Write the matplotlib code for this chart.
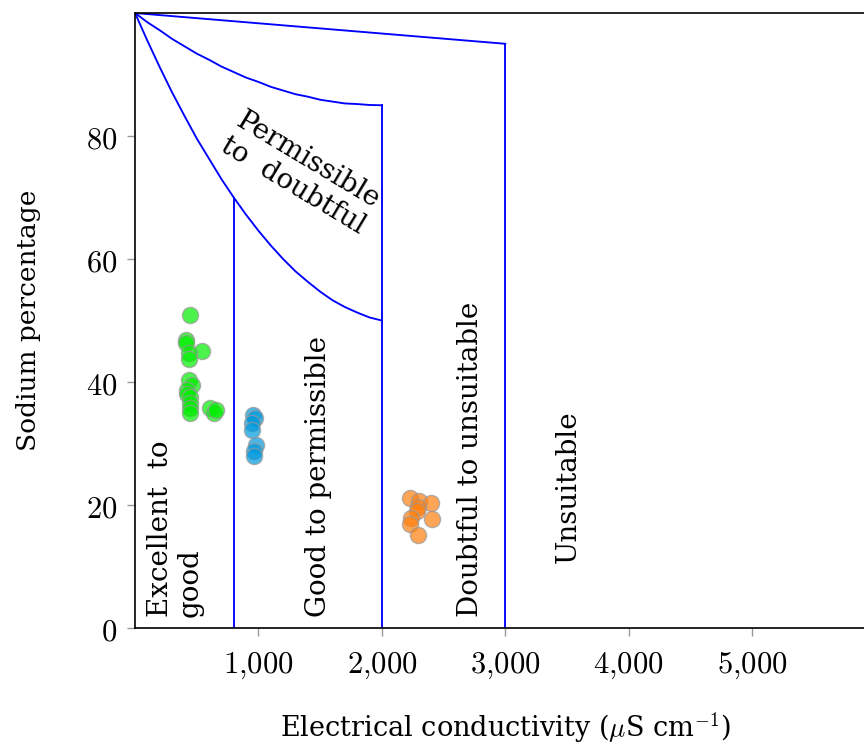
import numpy as np
import matplotlib
matplotlib.use('Agg')
import matplotlib.pyplot as plt
from matplotlib.ticker import FuncFormatter

plt.rcParams['font.family'] = ['DejaVu Serif']
plt.rcParams['mathtext.fontset'] = 'cm'

# Wilcox boundaries
curve_x = [0, 100, 200, 300, 400, 500, 600, 700, 800, 900, 1000,
           1100, 1200, 1300, 1400, 1500, 1600, 1700, 1800, 1900, 2000]
lower_na = [100, 95.5, 91.2, 87.1, 83.3, 79.6, 76.3, 73.0, 70.0, 67.2, 64.6,
            62.2, 60.0, 58.0, 56.3, 54.7, 53.3, 52.2, 51.3, 50.5, 50]
upper_na = [100, 98.5, 97.2, 95.8, 94.6, 93.4, 92.4, 91.3, 90.4, 89.5, 88.8,
            88.0, 87.4, 86.8, 86.4, 85.9, 85.6, 85.3, 85.2, 85.05, 85]
top_x = [0, 3000]
top_na = [100, 95]

# samples
green_ec = [446, 411, 411, 546, 438, 438, 438, 459, 419, 419, 446, 446, 446, 446, 608, 640, 655]
green_na = [50.9, 46.8, 46.4, 45.0, 44.8, 43.7, 40.3, 39.5, 38.7, 38.0, 37.5, 36.6, 35.8, 35.0, 35.7, 35.0, 35.5]
blue_ec = [959, 972, 945, 945, 980, 964, 964]
blue_na = [34.6, 34.2, 33.4, 32.2, 29.7, 28.8, 27.9]
orange_ec = [2229, 2304, 2396, 2296, 2283, 2404, 2234, 2229, 2296]
orange_na = [21.1, 20.6, 20.4, 19.6, 19.0, 17.8, 17.9, 16.9, 15.2]

fig = plt.figure(figsize=(8.64, 7.49), dpi=100)
ax = fig.add_axes([0.1563, 0.1615, 0.857, 0.8211])

line_kw = dict(color='blue', lw=1.35)
ax.plot(curve_x, lower_na, **line_kw)
ax.plot(curve_x, upper_na, **line_kw)
ax.plot(top_x, top_na, **line_kw)
ax.plot([800, 800], [0, 70], **line_kw)
ax.plot([2000, 2000], [0, 85], **line_kw)
ax.plot([3000, 3000], [0, 95], **line_kw)

pt_kw = dict(s=135, edgecolors='#999999', linewidths=1.0, alpha=0.7, zorder=3)
ax.scatter(green_ec, green_na, c='#00ee00', **pt_kw)
ax.scatter(blue_ec, blue_na, c='#0099dd', **pt_kw)
ax.scatter(orange_ec, orange_na, c='#ff7f0e', **pt_kw)

fs = 20
ax.text(325, 1.8, 'Excellent  to\ngood', rotation=90, fontsize=fs, ha='center', va='bottom',
        multialignment='left', linespacing=1.1)
ax.text(1485, 1.8, 'Good to permissible', rotation=90, fontsize=fs, ha='center', va='bottom')
ax.text(2715, 1.8, 'Doubtful to unsuitable', rotation=90, fontsize=fs, ha='center', va='bottom')
ax.text(3510, 23, 'Unsuitable', rotation=90, fontsize=fs, ha='center', va='center')
ax.text(1340, 74, 'Permissible\nto  doubtful', rotation=-31, fontsize=fs, ha='center', va='center',
        multialignment='center', rotation_mode='anchor', linespacing=1.1)

ax.set_xlim(0, 6000)
ax.set_ylim(0, 100)
ax.set_xticks([1000, 2000, 3000, 4000, 5000])
ax.set_yticks([0, 20, 40, 60, 80])
ax.xaxis.set_major_formatter(FuncFormatter(lambda v, p: '$' + f'{v:,.0f}'.replace(',', '{,}') + '$'))
ax.yaxis.set_major_formatter(FuncFormatter(lambda v, p: f'${v:.0f}$'))
ax.tick_params(direction='out', length=6, width=1, color='#999999', labelsize=22)
ax.tick_params(axis='x', pad=10)
ax.tick_params(axis='y', pad=7)
for s in ax.spines.values():
    s.set_linewidth(1.2)
ax.spines['right'].set_visible(False)

ax.set_xlabel(r'Electrical conductivity ($\mu$S cm$^{-1}$)', fontsize=19.5, labelpad=21)
ax.set_ylabel('Sodium percentage', fontsize=19, labelpad=32)

fig.savefig('out.png', dpi=100)
